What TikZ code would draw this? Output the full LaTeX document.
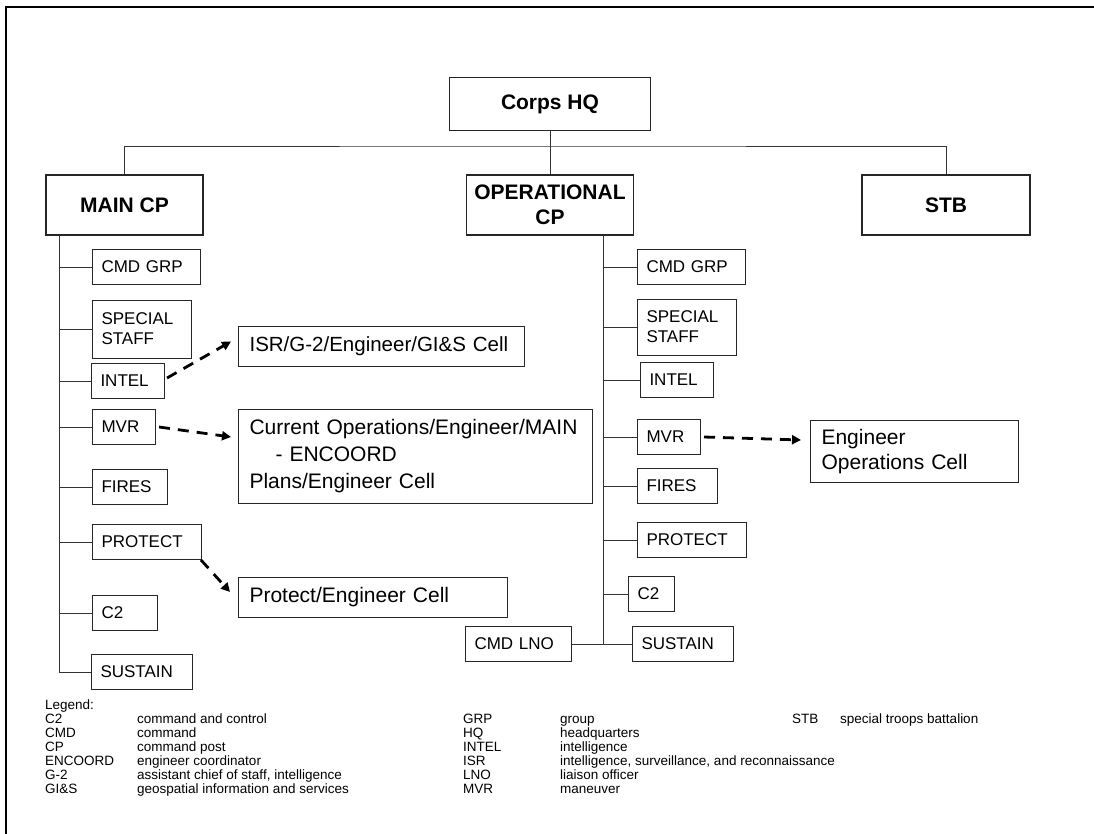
\documentclass[tikz,border=0pt]{standalone}
\usepackage{fontspec}
\setmainfont{Liberation Sans}
\usetikzlibrary{arrows.meta}
\begin{document}
\begin{tikzpicture}[x=1pt,y=-1pt,
  head/.style={draw=black!85, line width=1.1pt, inner sep=0pt, align=center,
    font=\fontsize{21}{25}\selectfont\bfseries},
  sbox/.style={draw=black!85, line width=1pt, anchor=west, inner xsep=9pt, inner ysep=0pt,
    minimum height=35pt, text width=#1, align=left, font=\fontsize{17}{20}\selectfont},
  cell/.style={draw=black!85, line width=1.1pt, anchor=north west, inner xsep=11pt, inner ysep=0pt,
    text width=#1, align=left, font=\fontsize{21}{27}\selectfont},
  tree/.style={draw=black!80, line width=1pt},
  link/.style={line width=2.8pt, dash pattern=on 11pt off 8pt,
    -{Triangle[length=9pt,width=9pt]}}
]
% page and frame
\useasboundingbox (0,0) rectangle (1094,833);
\fill[white] (0,0) rectangle (1094,833);
\draw[line width=2pt] (6,840) -- (6,7) -- (1100,7);

% top level
\node[head, minimum width=201pt, minimum height=53pt] (corps) at (550,104) {Corps HQ};
\node[head, minimum width=157pt, minimum height=60pt] (main) at (124.5,205) {MAIN CP};
\node[head, minimum width=167pt, minimum height=60pt] (op) at (550,205) {OPERATIONAL\\CP};
\node[head, minimum width=168pt, minimum height=60pt] (stb) at (946,205) {STB};
\coordinate (bus) at (550,146);
\draw[tree] (main.north) |- (bus) -| (stb.north);
\draw[tree] (corps.south) -- (op.north);

% MAIN CP staff
\node[sbox=90pt] (lcmd) at (92,267) {CMD GRP};
\node[sbox=81pt, minimum height=58pt] (lspec) at (92,329) {SPECIAL\\STAFF};
\node[sbox=55pt] (lintel) at (91,381) {INTEL};
\node[sbox=45pt] (lmvr) at (92,427) {MVR};
\node[sbox=57pt] (lfires) at (92,487) {FIRES};
\node[sbox=91pt] (lprot) at (92,542) {PROTECT};
\node[sbox=47pt] (lc2) at (92,613) {C2};
\node[sbox=83pt] (lsus) at (91,672) {SUSTAIN};
\coordinate (lsp) at (59,235);
\draw[tree] (lsp) |- (lsus.west);
\foreach \n in {lcmd,lspec,lintel,lmvr,lfires,lprot,lc2}
  \draw[tree] (\n.west) -- (\n.west -| lsp);

% OPERATIONAL CP staff
\node[sbox=90pt] (rcmd) at (637,267) {CMD GRP};
\node[sbox=81pt, minimum height=56pt] (rspec) at (637,327) {SPECIAL\\STAFF};
\node[sbox=55pt] (rintel) at (640,380) {INTEL};
\node[sbox=45pt] (rmvr) at (637,437) {MVR};
\node[sbox=62pt] (rfires) at (637,486) {FIRES};
\node[sbox=91pt] (rprot) at (637,540) {PROTECT};
\node[sbox=28pt] (rc2) at (628,594) {C2};
\node[sbox=83pt] (rsus) at (632,644) {SUSTAIN};
\node[sbox=88pt] (rlno) at (465,644) {CMD LNO};
\coordinate (rsp) at (603,235);
\draw[tree] (rsp) |- (rsus.west);
\draw[tree] (rlno.east) -- (rlno.east -| rsp);
\foreach \n in {rcmd,rspec,rintel,rmvr,rfires,rprot,rc2}
  \draw[tree] (\n.west) -- (\n.west -| rsp);

% engineer cells
\node[cell=264pt, minimum width=286pt, minimum height=40pt,
  font=\fontsize{20.5}{25}\selectfont] (isr) at (238,326)
  {ISR/G-2/Engineer/GI\&S Cell};
\node[cell=332pt, minimum width=354pt, minimum height=94pt] (cur) at (238,409)
  {Current Operations/Engineer/MAIN\\\hspace*{26pt}- ENCOORD\\Plans/Engineer Cell};
\node[cell=247pt, minimum width=269pt, minimum height=40pt] (pcell) at (238,577)
  {Protect/Engineer Cell};
\node[cell=186pt, minimum width=208pt, minimum height=62pt,
  font=\fontsize{21}{25}\selectfont] (eng) at (810,420) {Engineer\\Operations Cell};

% dashed links
\draw[link] ([xshift=2pt,yshift=3pt]lintel.east) -- ([xshift=-7pt,yshift=5pt]isr.west);
\draw[link] ([xshift=3pt]lmvr.east) -- ([xshift=-7pt,yshift=-28pt]cur.north west);
\draw[link] ([xshift=-1pt]lprot.south east) -- ([xshift=-8pt,yshift=-15pt]pcell.north west);
\draw[link] ([xshift=3pt]rmvr.east) -- ([xshift=-9pt,yshift=-20pt]eng.north west);

% legend
\node[anchor=north west, inner sep=0pt, font=\fontsize{13.5}{14}\selectfont] (legend) at (45,699) {%
  \begin{tabular}{@{}p{92pt}@{}p{326pt}@{}p{97pt}@{}p{232pt}@{}p{48pt}@{}l@{}}
  Legend: &&&&&\\
  C2 & command and control & GRP & group & STB & special troops battalion\\
  CMD & command & HQ & headquarters &&\\
  CP & command post & INTEL & intelligence &&\\
  ENCOORD & engineer coordinator & ISR & \makebox[0pt][l]{intelligence, surveillance, and reconnaissance} &&\\
  G-2 & assistant chief of staff, intelligence & LNO & liaison officer &&\\
  GI\&S & geospatial information and services & MVR & maneuver &&\\
  \end{tabular}};
\end{tikzpicture}
\end{document}
